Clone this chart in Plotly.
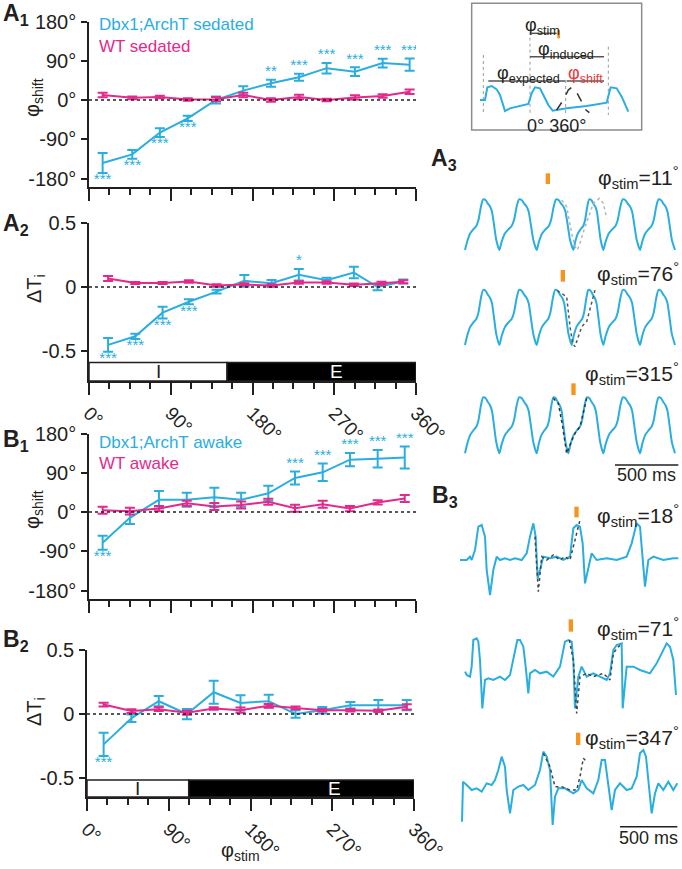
import plotly.graph_objects as go

W, H = 682, 869
def px(x): return x / W
def py(y): return 1 - y / H

FONT = "Liberation Sans, Arial, sans-serif"
CYAN = "#2AAEE0"
MAG = "#E5288B"
INK = "#231F20"
ORANGE = "#F7941D"
RED = "#E8383D"

# ---------------- tick labels ----------------
phase_ticks = [0, 90, 180, 270, 360]
phase_ticktext = ["0°", "90°", "180°", "270°", "360°"]
phase_minor = [22.5, 45, 67.5, 112.5, 135, 157.5, 202.5, 225, 247.5, 292.5, 315, 337.5]
shift_ticks = [-180, -90, 0, 90, 180]
shift_ticktext = ["-180°", "-90°", "0°", "90°", "180°"]
dti_ticks = [-0.5, 0, 0.5]
dti_ticktext = ["-0.5", "0", "0.5"]

# ---------------- A1: phase shift, sedated ----------------
a1_x = [15, 47.6, 78, 108.7, 139.8, 169.8, 200.3, 231.2, 261.6, 292.8, 323.3, 353]
a1_dbx = [-144.6, -124.6, -74.6, -42, 0, 21.5, 38.5, 52, 73, 65, 84.6, 81]
a1_dbx_err = [23, 10, 10, 6, 8, 10, 8, 8, 12, 10, 10, 14]
a1_wt = [11.5, 5, 7, 1, 2, 11.5, 0, 7, 0, 6, 9, 19]
a1_wt_err = [5, 3, 3, 3, 5, 5, 4, 5, 3, 5, 4, 5]
a1_stars = ["***", "***", "***", "***", "", "", "**", "***", "***", "***", "***", "***"]
a1_side = ["below"] * 4 + ["", ""] + ["above"] * 6

# ---------------- A2: delta Ti, sedated ----------------
a2_x = [21, 51, 81, 110, 140.5, 171, 201, 231, 261.6, 291.6, 317.7, 346]
a2_dbx = [-0.452, -0.385, -0.2, -0.115, -0.036, 0.048, 0.029, 0.096, 0.053, 0.113, 0, 0.043]
a2_dbx_err = [0.054, 0.02, 0.045, 0.02, 0.015, 0.045, 0.025, 0.045, 0.02, 0.045, 0.025, 0.015]
a2_x_wt = [21, 51, 81, 110, 140.5, 171, 201, 231, 261.6, 291.6, 322, 346]
a2_wt = [0.067, 0.031, 0.031, 0.043, 0.012, 0.019, 0.012, 0.036, 0.036, 0.017, 0.029, 0.041]
a2_wt_err = [0.02, 0.008, 0.008, 0.01, 0.01, 0.01, 0.01, 0.01, 0.01, 0.01, 0.012, 0.012]
a2_stars = ["***", "***", "***", "***", "", "", "", "*", "", "", "", ""]
a2_side = ["below"] * 4 + ["", "", "", "above", "", "", "", ""]
a2_phase_bounds = [0, 152, 360]

# ---------------- B1: phase shift, awake ----------------
b1_x = [15, 45, 77, 107.6, 138, 167.5, 197.4, 226.8, 257.3, 287.3, 317.8, 347.6]
b1_dbx = [-70.4, -13.3, 28, 28, 33.7, 28, 43, 78, 91, 120, 122, 125]
b1_dbx_err = [16, 14, 20, 16, 22, 16, 17, 15, 20, 15, 20, 25]
b1_wt = [4, 2, 8, 20, 12.5, 16, 23.5, 8.6, 18, 8, 22, 31]
b1_wt_err = [8, 8, 6, 6, 8, 8, 7, 8, 8, 6, 5, 8]
b1_stars = ["***", "", "", "", "", "", "", "***", "***", "***", "***", "***"]
b1_side = ["below"] + [""] * 6 + ["above"] * 5

# ---------------- B2: delta Ti, awake ----------------
b2_x = [18.3, 48.9, 79, 110, 139.5, 169, 200, 229.6, 259, 290, 320.7, 352]
b2_dbx = [-0.237, -0.033, 0.10, 0, 0.17, 0.087, 0.10, 0, 0.03, 0.069, 0.069, 0.069]
b2_dbx_err = [0.09, 0.03, 0.04, 0.04, 0.09, 0.06, 0.05, 0.03, 0.025, 0.025, 0.04, 0.04]
b2_wt = [0.074, 0.023, 0.038, 0.01, 0.043, 0.03, 0.064, 0.048, 0.03, 0.03, 0.025, 0.056]
b2_wt_err = [0.015, 0.015, 0.015, 0.015, 0.01, 0.02, 0.015, 0.01, 0.01, 0.01, 0.01, 0.02]
b2_stars = ["***"] + [""] * 11
b2_side = ["below"] + [""] * 11
b2_phase_bounds = [0, 112, 360]
ie_label_E_x = 273

# ---------------- inset schematic (arbitrary sample units) ----------------
inset_x = [240, 255, 262, 275, 290, 300, 315, 330, 385, 395, 405, 420, 430, 445, 458, 500, 560, 620, 632, 650, 665, 685]
inset_y = [300, 300, 262, 258, 268, 285, 333, 325, 312, 280, 262, 265, 285, 315, 332, 325, 318, 308, 262, 265, 290, 335]
inset_dash_x = [470, 490, 505, 515, 525, 535, 545, 558, 568]
inset_dash_y = [330, 300, 270, 262, 268, 285, 305, 330, 338]
inset_vline_x = [250, 390, 497, 625]
inset_vline_top = [165, 95, 240, 140]
inset_vline_bottom = 345
inset_hbar_x0 = [395, 390, 265, 500]
inset_hbar_x1 = [470, 612, 495, 612]
inset_hbar_y = [100, 170, 243, 243]
inset_stim_x = [472, 480]
inset_stim_y = [90, 115]
inset_box_x = [215, 725]
inset_box_y = [10, 390]

# ---------------- A3 example traces (sample units) ----------------
a3_cycle_phase = [0, 0.0625, 0.152, 0.241, 0.33, 0.393, 0.464, 0.527, 0.598, 0.661, 0.732, 0.786, 0.839, 0.911]
a3_cycle_level = [0, 0.164, 0.329, 0.408, 0.474, 0.592, 0.855, 1.0, 0.987, 0.921, 0.855, 0.757, 0.526, 0.197]
a3_troughs = [[75, 178, 290, 400, 490, 600, 705],
              [75, 178, 290, 395, 490, 600, 705],
              [75, 178, 290, 385, 490, 600, 705]]
a3_base = [330, 615, 940]
a3_peak = [178, 450, 772]
a3_over_x = [[365, 380, 395, 405, 412, 420, 432, 445, 460, 478, 490, 500],
             [352, 365, 380, 390, 398, 405, 415, 425, 440, 455, 465],
             [340, 355, 368, 380, 392, 405, 420, 432, 440]]
a3_over_y = [[180, 200, 280, 320, 330, 310, 270, 230, 190, 175, 190, 235],
             [452, 460, 470, 560, 610, 620, 590, 560, 545, 490, 450],
             [775, 790, 860, 940, 910, 880, 860, 810, 775]]
a3_over_color = ["#B5B5B5", "#555555", "#333333"]
a3_stim_x0 = [317, 362, 394]
a3_stim_y = [[100, 132], [390, 425], [730, 765]]
a3_labels = ["11", "76", "315"]
a3_label_y = [112, 400, 700]
a3_scale_x = [525, 715]
a3_scale_y = 975

# ---------------- B3 example traces (sample units) ----------------
b3_t1_x = [60, 80, 90, 95, 105, 115, 125, 135, 140, 150, 160, 170, 180, 195, 210, 225, 245, 260, 270, 280,
           287, 293, 300, 310, 330, 350, 370, 390, 400, 410, 420, 428, 435, 445, 455, 470, 500, 530, 560, 575,
           590, 600, 607, 615, 625, 640, 670, 700, 715]
b3_t1_y = [300, 300, 290, 300, 270, 200, 195, 230, 330, 405, 330, 290, 300, 295, 300, 295, 300, 280, 230, 190,
           230, 355, 330, 290, 295, 290, 300, 290, 205, 195, 200, 250, 370, 320, 280, 300, 295, 300, 290, 250,
           190, 200, 280, 380, 300, 290, 300, 295, 295]
b3_t2_x = [75, 80, 90, 95, 100, 110, 115, 120, 127, 135, 145, 160, 180, 195, 210, 225, 232, 240, 250, 257,
           265, 270, 285, 300, 320, 340, 360, 375, 385, 395, 400, 405, 415, 425, 440, 460, 480, 500, 510, 520,
           530, 545, 548, 560, 580, 600, 630, 650, 665, 680, 690, 700, 708]
b3_t2_y = [635, 645, 650, 620, 540, 535, 545, 600, 745, 660, 655, 660, 650, 660, 645, 580, 540, 540, 560, 620,
           700, 640, 630, 640, 635, 650, 620, 545, 540, 545, 600, 745, 650, 620, 650, 640, 650, 660, 640, 570,
           555, 550, 745, 620, 620, 630, 640, 610, 580, 550, 560, 600, 705]
b3_t3_x = [66, 69, 80, 95, 110, 125, 140, 155, 165, 175, 185, 195, 200, 210, 220, 235, 250, 265, 285, 300,
           310, 320, 330, 338, 345, 355, 375, 400, 415, 425, 440, 460, 475, 485, 495, 505, 515, 525, 540, 560,
           575, 590, 600, 610, 618, 625, 635, 645, 655, 670, 685, 700, 712]
b3_t3_y = [1085, 965, 975, 990, 985, 995, 970, 975, 960, 930, 890, 920, 990, 1060, 990, 980, 975, 990, 975, 930,
           875, 890, 930, 1095, 1010, 985, 985, 1000, 990, 960, 985, 1000, 960, 900, 900, 980, 1050, 990, 970, 990,
           985, 950, 880, 870, 890, 960, 1060, 1000, 970, 990, 965, 990, 970]
b3_over_x = [[285, 295, 305, 320, 340, 360, 375, 390, 405, 420],
             [388, 400, 410, 420, 440, 460, 490, 510, 520, 535, 548],
             [310, 330, 345, 365, 390, 410, 420, 430, 440]]
b3_over_y = [[230, 395, 290, 300, 285, 300, 290, 300, 240, 180],
             [540, 600, 760, 650, 640, 650, 640, 660, 580, 560, 550],
             [880, 920, 980, 980, 990, 990, 950, 895, 905]]
b3_stim_x0 = [403, 386, 408]
b3_stim_y = [[140, 172], [478, 515], [818, 855]]
b3_labels = ["18", "71", "347"]
b3_label_y = [165, 505, 832]
b3_scale_x = [540, 712]
b3_scale_y = 1100
stim_bar_w = 13

fig = go.Figure()

def ax_names(n):
    return ("x" if n == 1 else f"x{n}"), ("y" if n == 1 else f"y{n}")

def add_panel(n, xc, c, ce, xw, w, we, stars, side):
    xa, ya = ax_names(n)
    fig.add_trace(go.Scatter(x=xc, y=c, mode="lines", line=dict(color=CYAN, width=2),
                             error_y=dict(type="data", array=ce, color=CYAN, thickness=2, width=5),
                             xaxis=xa, yaxis=ya, hoverinfo="skip"))
    fig.add_trace(go.Scatter(x=xw, y=w, mode="lines", line=dict(color=MAG, width=2),
                             error_y=dict(type="data", array=we, color=MAG, thickness=2, width=5),
                             xaxis=xa, yaxis=ya, hoverinfo="skip"))
    sx, sy, st, sp = [], [], [], []
    for xi, yi, ei, s, sd in zip(xc, c, ce, stars, side):
        if not s:
            continue
        sx.append(xi)
        st.append(s)
        if sd == "below":
            sy.append(yi - ei)
            sp.append("bottom center")
        else:
            sy.append(yi + ei)
            sp.append("top center")
    fig.add_trace(go.Scatter(x=sx, y=sy, mode="text", text=st, textposition=sp,
                             textfont=dict(color=CYAN, size=15, family=FONT),
                             xaxis=xa, yaxis=ya, hoverinfo="skip"))
    fig.add_shape(type="line", x0=0, x1=360, y0=0, y1=0, xref=xa, yref=ya,
                  line=dict(color=INK, width=1.5, dash="dot"))

add_panel(1, a1_x, a1_dbx, a1_dbx_err, a1_x, a1_wt, a1_wt_err, a1_stars, a1_side)
add_panel(2, a2_x, a2_dbx, a2_dbx_err, a2_x_wt, a2_wt, a2_wt_err, a2_stars, a2_side)
add_panel(3, b1_x, b1_dbx, b1_dbx_err, b1_x, b1_wt, b1_wt_err, b1_stars, b1_side)
add_panel(4, b2_x, b2_dbx, b2_dbx_err, b2_x, b2_wt, b2_wt_err, b2_stars, b2_side)

# I / E phase bars
def add_ie_bar(n, bounds, ybot, ytop):
    xa, ya = ax_names(n)
    fig.add_shape(type="rect", x0=bounds[0], x1=bounds[1], y0=ybot, y1=ytop, xref=xa, yref=ya,
                  fillcolor="white", line=dict(color=INK, width=1.5))
    fig.add_shape(type="rect", x0=bounds[1], x1=bounds[2], y0=ybot, y1=ytop, xref=xa, yref=ya,
                  fillcolor="black", line=dict(color=INK, width=1.5))
    ym = (ybot + ytop) / 2
    fig.add_annotation(x=(bounds[0] + bounds[1]) / 2, y=ym, xref=xa, yref=ya, text="I",
                       showarrow=False, font=dict(size=19, color=INK, family=FONT))
    fig.add_annotation(x=ie_label_E_x, y=ym, xref=xa, yref=ya, text="E",
                       showarrow=False, font=dict(size=19, color="white", family=FONT))

A2_RANGE = [-0.734, 0.5]
B2_RANGE = [-0.648, 0.5]
add_ie_bar(2, a2_phase_bounds, A2_RANGE[0], -0.59)
add_ie_bar(4, b2_phase_bounds, B2_RANGE[0], -0.515)

# ---------------- axes ----------------
tickfont = dict(size=20, color=INK, family=FONT)
xtickfont = dict(size=19, color=INK, family=FONT)

def xaxis(dom, anchor, labels):
    return dict(domain=[px(dom[0]), px(dom[1])], range=[0, 360], anchor=anchor, automargin=False,
                showline=True, linecolor=INK, linewidth=1.5, mirror=False,
                ticks="outside", ticklen=12, tickwidth=1.5, tickcolor=INK,
                tickmode="array", tickvals=phase_ticks, ticktext=phase_ticktext,
                showticklabels=labels, tickangle=45, tickfont=xtickfont,
                showgrid=False, zeroline=False,
                minor=dict(tickmode="array", tickvals=phase_minor, ticks="outside",
                           ticklen=6, tickwidth=1.5, tickcolor=INK, showgrid=False))

def yaxis(top, bot, rng, anchor, vals, text):
    return dict(domain=[py(bot), py(top)], range=rng, anchor=anchor, automargin=False,
                showline=True, linecolor=INK, linewidth=1.5,
                ticks="outside", ticklen=6, tickwidth=1.5, tickcolor=INK,
                tickmode="array", tickvals=vals, ticktext=text, tickfont=tickfont,
                showgrid=False, zeroline=False, ticklabelstandoff=1)

hidden = dict(visible=False, showgrid=False, zeroline=False, automargin=False)

fig.update_layout(
    template="none",
    width=W, height=H, margin=dict(l=0, r=0, t=0, b=0, pad=0, autoexpand=False),
    paper_bgcolor="white", plot_bgcolor="rgba(0,0,0,0)", showlegend=False,
    font=dict(family=FONT, color=INK),
    xaxis=xaxis((89, 416), "y", False),
    yaxis=yaxis(21.5, 187, [-199.5, 180], "x", shift_ticks, shift_ticktext),
    xaxis2=xaxis((89, 416), "y2", True),
    yaxis2=yaxis(223, 381, A2_RANGE, "x2", dti_ticks, dti_ticktext),
    xaxis3=xaxis((89, 416), "y3", False),
    yaxis3=yaxis(433.5, 599, [-199.5, 180], "x3", shift_ticks, shift_ticktext),
    xaxis4=xaxis((87, 414), "y4", True),
    yaxis4=yaxis(650, 797, B2_RANGE, "x4", dti_ticks, dti_ticktext),
    xaxis5=dict(domain=[px(400), 1], range=[0, 846], anchor="y5", **hidden),
    yaxis5=dict(domain=[py(140), 1], range=[420, 0], anchor="x5", **hidden),
    xaxis6=dict(domain=[px(440), 1], range=[0, 726], anchor="y6", **hidden),
    yaxis6=dict(domain=[py(470), py(140)], range=[990, 0], anchor="x6", **hidden),
    xaxis7=dict(domain=[px(440), 1], range=[0, 726], anchor="y7", **hidden),
    yaxis7=dict(domain=[0, py(460)], range=[1227, 0], anchor="x7", **hidden),
)

# ---------------- inset ----------------
fig.add_shape(type="rect", x0=inset_box_x[0], x1=inset_box_x[1], y0=inset_box_y[0], y1=inset_box_y[1],
              xref="x5", yref="y5", line=dict(color="#8C8C8C", width=1.5))
for vx, vt in zip(inset_vline_x, inset_vline_top):
    fig.add_trace(go.Scatter(x=[vx, vx], y=[vt, inset_vline_bottom], mode="lines",
                             line=dict(color="#9A9A9A", width=1, dash="dot"),
                             xaxis="x5", yaxis="y5", hoverinfo="skip"))
for x0, x1, yy in zip(inset_hbar_x0, inset_hbar_x1, inset_hbar_y):
    fig.add_trace(go.Scatter(x=[x0, x1], y=[yy, yy], mode="lines",
                             line=dict(color="#555555", width=1.5),
                             xaxis="x5", yaxis="y5", hoverinfo="skip"))
fig.add_trace(go.Scatter(x=inset_x, y=inset_y, mode="lines", line=dict(color=CYAN, width=2),
                         xaxis="x5", yaxis="y5", hoverinfo="skip"))
fig.add_trace(go.Scatter(x=inset_dash_x, y=inset_dash_y, mode="lines",
                         line=dict(color="#333333", width=1.5, dash="dash"),
                         xaxis="x5", yaxis="y5", hoverinfo="skip"))
fig.add_shape(type="rect", x0=inset_stim_x[0], x1=inset_stim_x[1], y0=inset_stim_y[0], y1=inset_stim_y[1],
              xref="x5", yref="y5", fillcolor=ORANGE, line=dict(width=0))
inset_texts = [("φ<sub>stim</sub>", 428, 78, INK), ("φ<sub>induced</sub>", 497, 150, INK),
               ("φ<sub>expected</sub>", 385, 222, INK), ("φ<sub>shift</sub>", 556, 222, RED),
               ("0° 360°", 468, 378, INK)]
for t, tx, ty, col in inset_texts:
    fig.add_annotation(x=tx, y=ty, xref="x5", yref="y5", text=t, showarrow=False,
                       font=dict(size=18, color=col, family=FONT))

# ---------------- A3 traces ----------------
for k in range(3):
    xs, ys = [], []
    tr = a3_troughs[k]
    amp = a3_base[k] - a3_peak[k]
    for i in range(len(tr) - 1):
        per = tr[i + 1] - tr[i]
        for ph, lv in zip(a3_cycle_phase, a3_cycle_level):
            xs.append(tr[i] + ph * per)
            ys.append(a3_base[k] - lv * amp)
    xs.append(tr[-1])
    ys.append(a3_base[k])
    fig.add_trace(go.Scatter(x=xs, y=ys, mode="lines", line=dict(color=CYAN, width=2, shape="spline", smoothing=0.6),
                             xaxis="x6", yaxis="y6", hoverinfo="skip"))
    fig.add_trace(go.Scatter(x=a3_over_x[k], y=a3_over_y[k], mode="lines",
                             line=dict(color=a3_over_color[k], width=1.5, dash="dot"),
                             xaxis="x6", yaxis="y6", hoverinfo="skip"))
    fig.add_shape(type="rect", x0=a3_stim_x0[k], x1=a3_stim_x0[k] + stim_bar_w,
                  y0=a3_stim_y[k][0], y1=a3_stim_y[k][1], xref="x6", yref="y6",
                  fillcolor=ORANGE, line=dict(width=0))
    fig.add_annotation(x=724, y=a3_label_y[k], xref="x6", yref="y6", xanchor="right",
                       text=f"φ<sub>stim</sub>={a3_labels[k]}<sup>°</sup>", showarrow=False,
                       font=dict(size=21, color=INK, family=FONT))
fig.add_trace(go.Scatter(x=a3_scale_x, y=[a3_scale_y, a3_scale_y], mode="lines",
                         line=dict(color=INK, width=1.5), xaxis="x6", yaxis="y6", hoverinfo="skip"))
fig.add_annotation(x=(a3_scale_x[0] + a3_scale_x[1]) / 2, y=46, xref="x7", yref="y7", text="500 ms",
                   showarrow=False, font=dict(size=18, color=INK, family=FONT))

# ---------------- B3 traces ----------------
for bx, by in [(b3_t1_x, b3_t1_y), (b3_t2_x, b3_t2_y), (b3_t3_x, b3_t3_y)]:
    fig.add_trace(go.Scatter(x=bx, y=by, mode="lines", line=dict(color=CYAN, width=2),
                             xaxis="x7", yaxis="y7", hoverinfo="skip"))
for k in range(3):
    fig.add_trace(go.Scatter(x=b3_over_x[k], y=b3_over_y[k], mode="lines",
                             line=dict(color="#444444", width=1.5, dash="dot"),
                             xaxis="x7", yaxis="y7", hoverinfo="skip"))
    fig.add_shape(type="rect", x0=b3_stim_x0[k], x1=b3_stim_x0[k] + stim_bar_w,
                  y0=b3_stim_y[k][0], y1=b3_stim_y[k][1], xref="x7", yref="y7",
                  fillcolor=ORANGE, line=dict(width=0))
    fig.add_annotation(x=724, y=b3_label_y[k], xref="x7", yref="y7", xanchor="right",
                       text=f"φ<sub>stim</sub>={b3_labels[k]}<sup>°</sup>", showarrow=False,
                       font=dict(size=21, color=INK, family=FONT))
fig.add_trace(go.Scatter(x=b3_scale_x, y=[b3_scale_y, b3_scale_y], mode="lines",
                         line=dict(color=INK, width=1.5), xaxis="x7", yaxis="y7", hoverinfo="skip"))
fig.add_annotation(x=(b3_scale_x[0] + b3_scale_x[1]) / 2, y=1135, xref="x7", yref="y7", text="500 ms",
                   showarrow=False, font=dict(size=18, color=INK, family=FONT))

# ---------------- text labels ----------------
def paper_text(text, x, y, size, color=INK, angle=0, xanchor="center"):
    fig.add_annotation(x=px(x), y=py(y), xref="paper", yref="paper", text=text, showarrow=False,
                       textangle=angle, xanchor=xanchor, yanchor="middle",
                       font=dict(size=size, color=color, family=FONT))

# legends
paper_text("Dbx1;ArchT sedated", 97, 25, 17, CYAN, xanchor="left")
paper_text("WT sedated", 97, 47, 17, MAG, xanchor="left")
paper_text("Dbx1;ArchT awake", 97, 442, 17, CYAN, xanchor="left")
paper_text("WT awake", 97, 464, 17, MAG, xanchor="left")

# axis titles
paper_text("φ<sub>shift</sub>", 33, 98, 20, angle=-90)
paper_text("ΔT<sub>i</sub>", 35, 289, 20, angle=-90)
paper_text("φ<sub>shift</sub>", 33, 510, 20, angle=-90)
paper_text("ΔT<sub>i</sub>", 35, 712, 20, angle=-90)
paper_text("φ<sub>stim</sub>", 240, 851, 20)

# panel letters
for lab, sub, x, y in [("A", "1", 1, 15), ("A", "2", 1, 225), ("B", "1", 1, 440),
                       ("B", "2", 1, 640), ("A", "3", 429, 160), ("B", "3", 430, 496)]:
    paper_text(f"<b>{lab}</b><sub><b>{sub}</b></sub>", x, y, 23, xanchor="left")

fig.write_html("out.html", config={"displayModeBar": False},
               post_script="document.body.style.margin='0';document.body.style.overflow='hidden';")
